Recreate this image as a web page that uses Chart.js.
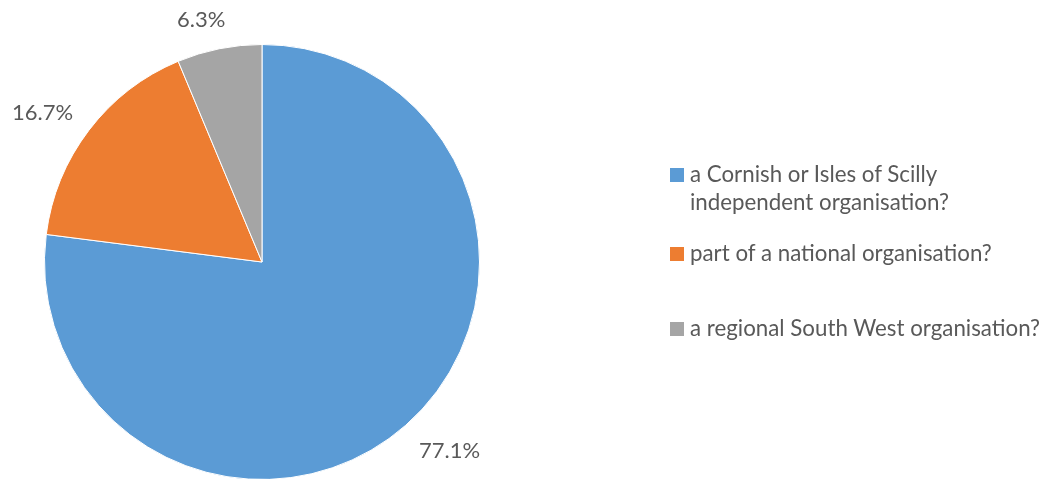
<!DOCTYPE html>
<html>
<head>
<meta charset="utf-8">
<script src="https://cdn.jsdelivr.net/npm/chart.js@4.4.1/dist/chart.umd.min.js"></script>
<style>
  html, body { margin: 0; padding: 0; background: #fff; overflow: hidden; }
  #wrap { position: relative; width: 1050px; height: 479px; overflow: hidden; }
  #pieChart { position: absolute; left: 0; top: 0; }
  #chart-legend {
    position: absolute; left: 670px; top: 160px;
    font-family: Lato, "Open Sans", sans-serif; font-size: 22.3px; color: #595959;
  }
  .legend-item { display: flex; align-items: flex-start; line-height: 28px; }
  .legend-box { width: 14px; height: 14px; margin-top: 8px; margin-right: 6px; flex: none; }
  .legend-item:nth-child(2) { margin-top: 23px; }
  .legend-item:nth-child(3) { margin-top: 47px; }
</style>
</head>
<body>
<div id="wrap">
  <canvas id="pieChart" width="1050" height="524"></canvas>
  <div id="chart-legend"></div>
</div>
<script>
const labels = [
  ["a Cornish or Isles of Scilly", "independent organisation?"],
  ["part of a national organisation?"],
  ["a regional South West organisation?"]
];
const values = [77.1, 16.7, 6.3];
const colors = ["#5B9BD5", "#ED7D31", "#A5A5A5"];

document.addEventListener("DOMContentLoaded", function () {
  const ctx = document.getElementById("pieChart").getContext("2d");

  // build legend from the same arrays
  document.getElementById("chart-legend").innerHTML = labels
    .map((lines, i) => `
      <div class="legend-item">
        <span class="legend-box" style="background:${colors[i]};"></span>
        <span>${lines.join("<br>")}</span>
      </div>`)
    .join("");

  // percent labels outside each slice
  const outsideLabels = {
    id: "outsideLabels",
    afterDatasetsDraw(chart) {
      const c = chart.ctx;
      const meta = chart.getDatasetMeta(0);
      c.save();
      c.font = '22px Lato, "Open Sans", sans-serif';
      c.fillStyle = "#595959";
      c.textAlign = "center";
      c.textBaseline = "middle";
      meta.data.forEach((arc, i) => {
        const p = arc.getProps(["x", "y", "startAngle", "endAngle", "outerRadius"], true);
        const mid = (p.startAngle + p.endAngle) / 2;
        const cos = Math.cos(mid), sin = Math.sin(mid);
        const text = values[i].toFixed(1) + "%";
        const w = c.measureText(text).width;
        const h = 22;
        const r = p.outerRadius + 20;
        // near-vertical slices keep the label closer to centred
        const x = p.x + cos * r + Math.sign(cos) * Math.min(1, Math.abs(cos) * 3) * w / 2;
        const y = p.y + sin * r + sin * h / 2 + 2;
        c.fillText(text, x, y);
      });
      c.restore();
    },
  };

  new Chart(ctx, {
    type: "pie",
    data: {
      labels: labels.map((l) => l.join(" ")),
      datasets: [
        {
          data: values,
          backgroundColor: colors,
          borderColor: "#ffffff",
          borderWidth: 1,
        },
      ],
    },
    options: {
      responsive: false,
      animation: false,
      layout: { padding: { left: 44, top: 44, right: 570, bottom: 44 } },
      plugins: {
        legend: { display: false },
        tooltip: { enabled: false },
      },
    },
    plugins: [outsideLabels],
  });
});
</script>
</body>
</html>
